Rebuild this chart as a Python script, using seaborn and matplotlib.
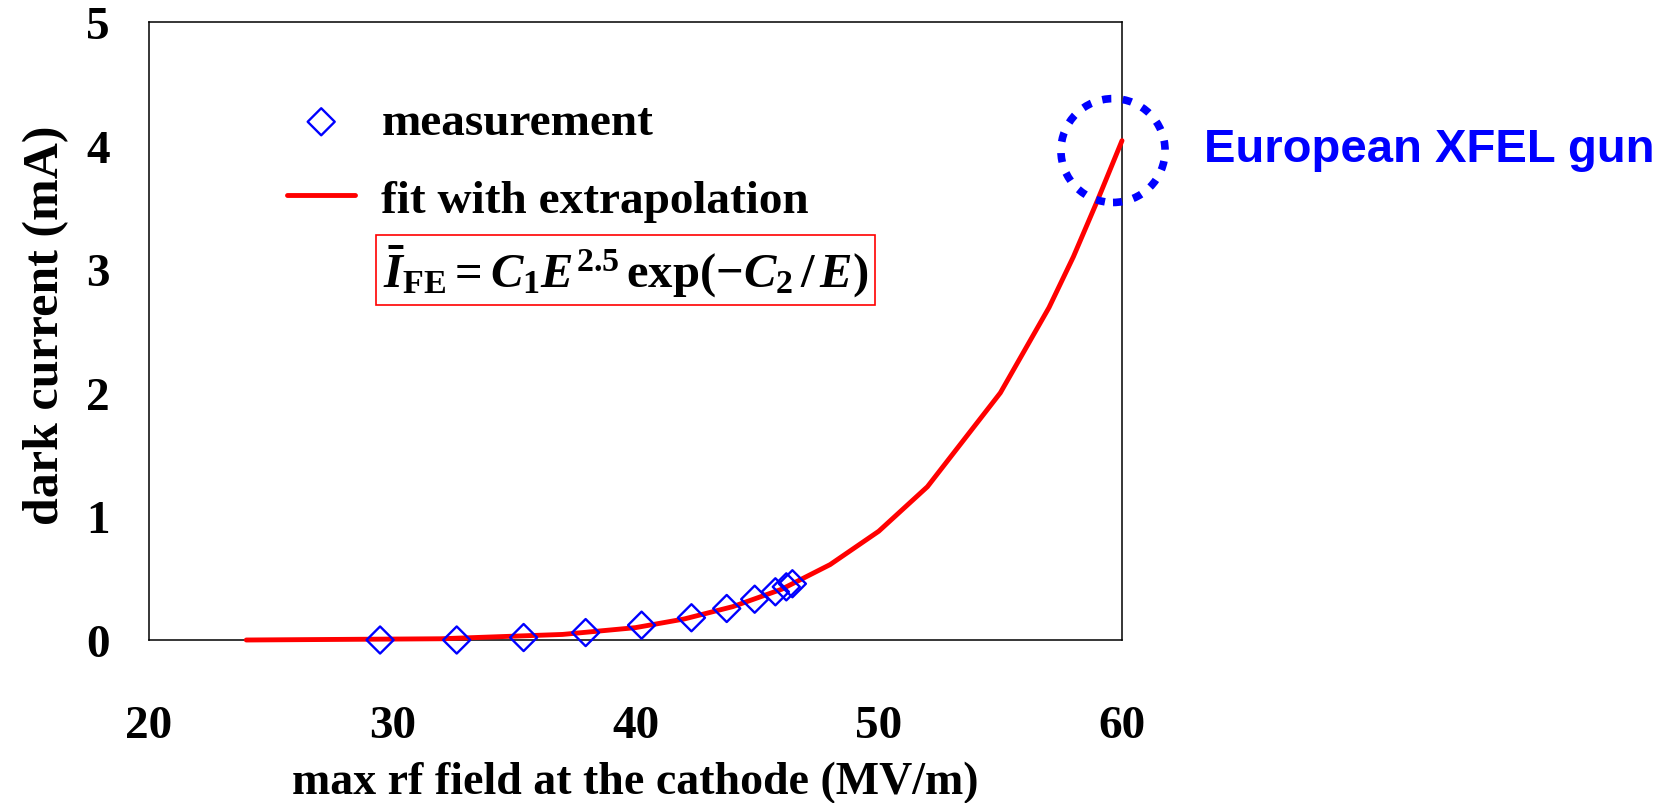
import matplotlib
matplotlib.use("Agg")
import matplotlib.pyplot as plt
from matplotlib.patches import Ellipse
import seaborn as sns

# measured dark current vs. peak rf field at the cathode
field_meas = [29.5, 32.65, 35.4, 37.95, 40.25, 42.3, 43.75, 44.9, 45.75, 46.2, 46.45]
current_meas = [0.0, 0.0, 0.02, 0.06, 0.12, 0.18, 0.255, 0.33, 0.39, 0.43, 0.455]

# Fowler-Nordheim type fit, extended to 60 MV/m
field_fit = [24, 32, 37, 40, 42, 44, 46, 48, 50, 52, 55, 57, 58, 59, 60]
current_fit = [0.0, 0.01, 0.045, 0.10, 0.17, 0.27, 0.41, 0.61, 0.88, 1.24, 2.0, 2.69, 3.1, 3.56, 4.04]

x_ticks = [20, 30, 40, 50, 60]
y_ticks = [0, 1, 2, 3, 4, 5]

sns.set_style("white")
plt.rcParams["font.family"] = ["Liberation Serif", "DejaVu Serif"]
plt.rcParams["font.weight"] = "bold"
plt.rcParams["text.color"] = "black"
plt.rcParams["axes.labelcolor"] = "black"
plt.rcParams["xtick.labelcolor"] = "black"
plt.rcParams["ytick.labelcolor"] = "black"
plt.rcParams["mathtext.fontset"] = "custom"
plt.rcParams["mathtext.rm"] = "Liberation Serif:bold"
plt.rcParams["mathtext.it"] = "Liberation Serif:italic:bold"
plt.rcParams["mathtext.bf"] = "Liberation Serif:bold"

fig = plt.figure(figsize=(16.71, 8.04), dpi=100)
ax = fig.add_axes([149 / 1671, 1 - 641 / 804, 973 / 1671, 618 / 804])

sns.lineplot(x=field_fit, y=current_fit, ax=ax, color="#ff0000", lw=3.5,
             label="fit with extrapolation", clip_on=False, zorder=3)
sns.scatterplot(x=field_meas, y=current_meas, ax=ax, marker="D", s=190,
                color="#0000ff", linewidth=1.7, label="measurement",
                clip_on=False, zorder=4)
pts = ax.collections[-1]
pts.set_facecolor("none")
pts.set_edgecolor("#0000ff")

ax.set_xlim(20, 60)
ax.set_ylim(0, 5)
ax.set_xticks(x_ticks)
ax.set_yticks(y_ticks)
ax.tick_params(axis="both", direction="in", length=11, width=1.0,
               color="#555555", labelcolor="black", labelsize=34)
ax.tick_params(axis="x", pad=47)
ax.tick_params(axis="y", pad=28)
for lab in ax.get_xticklabels() + ax.get_yticklabels():
    lab.set_fontweight("bold")
for sp in ax.spines.values():
    sp.set_linewidth(1.1)
    sp.set_color("black")

ax.set_xlabel("max rf field at the cathode (MV/m)", fontsize=33,
              fontweight="bold", color="black")
ax.xaxis.label.set_va("baseline")
ax.xaxis.set_label_coords(0.5, -0.2476)
ax.set_ylabel("dark current (mA)", fontsize=36, fontweight="bold", color="black")
ax.yaxis.label.set_va("center")
ax.yaxis.set_label_coords(-0.106, 0.511)

handles, labels = ax.get_legend_handles_labels()
order = [labels.index("measurement"), labels.index("fit with extrapolation")]
leg = ax.legend([handles[i] for i in order], [labels[i] for i in order],
                loc="upper left", bbox_to_anchor=(0.1418, 0.872),
                frameon=False, handlelength=1.45,
                handletextpad=0.55, labelspacing=0.73, borderpad=0,
                borderaxespad=0, prop={"weight": "bold", "size": 34})
for t in leg.get_texts():
    t.set_color("black")

ax.text(0.2405, 0.599,
        r"$\bar{I}_{\mathrm{FE}} = C_1E^{2.5}\,\mathrm{exp}(-C_2\,/\,E)$",
        transform=ax.transAxes, fontsize=35, ha="left", va="center",
        color="black",
        bbox=dict(boxstyle="square,pad=0.14", fc="none", ec="#ff0000", lw=1.2))

# highlight the extrapolated operating point
ring = Ellipse((59.63, 3.96), width=4.28, height=0.84, fill=False,
               ec="#0000ff", lw=5.5, ls=(0, (1.2, 1.5)), clip_on=False, zorder=5)
ax.add_patch(ring)
ax.text(63.37, 3.97, "European XFEL gun", color="#0000ff", fontsize=34,
        fontweight="bold", family="Liberation Sans", ha="left", va="center",
        clip_on=False)

fig.savefig("out.png", dpi=100, facecolor="white")
